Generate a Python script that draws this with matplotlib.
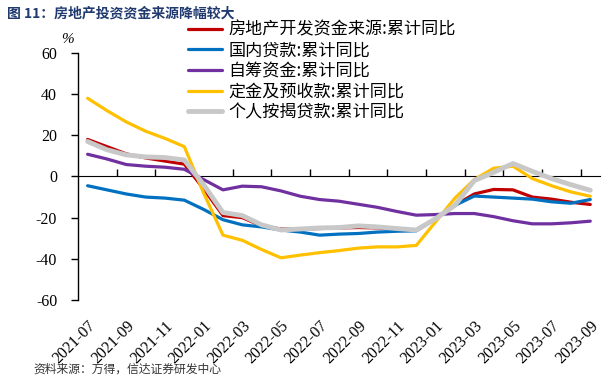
import matplotlib
matplotlib.use("Agg")
import matplotlib.pyplot as plt

plt.rcParams['font.family'] = ['Liberation Serif', 'Noto Sans CJK SC']
plt.rcParams['axes.unicode_minus'] = False

# months 2021-07 .. 2023-09
months = ["2021-07", "2021-08", "2021-09", "2021-10", "2021-11", "2021-12",
          "2022-01", "2022-02", "2022-03", "2022-04", "2022-05", "2022-06",
          "2022-07", "2022-08", "2022-09", "2022-10", "2022-11", "2022-12",
          "2023-01", "2023-02", "2023-03", "2023-04", "2023-05", "2023-06",
          "2023-07", "2023-08", "2023-09"]

total = [18, 14.5, 11, 9, 7.5, 6, -6, -19, -20, -24, -25.5, -25.5,
         -25.3, -25, -24.8, -25, -25.5, -26, -20.5, -14, -8.5, -6.3,
         -6.5, -10, -11, -12.5, -13.6]
domestic_loan = [-4.5, -6.5, -8.5, -10, -10.5, -11.5, -16, -21, -23.5, -24.5, -26, -27,
                 -28.5, -28, -27.7, -27, -26.6, -26.4, -20.5, -14, -9.5, -10,
                 -10.5, -11, -12.3, -13, -11.2]
self_raised = [10.8, 8.5, 5.8, 5, 4.5, 3.5, -1.5, -6.5, -4.7, -5, -7, -9.6,
               -11.2, -12, -13.5, -15, -17, -18.8, -18.5, -18, -18, -19.5,
               -21.5, -23, -23, -22.5, -21.7]
deposits = [38, 32, 26.5, 22, 18.5, 14.5, -8, -28.5, -31, -35.5, -39.5, -38.2,
            -37, -36, -34.8, -34.2, -34.2, -33.5, -22, -10.5, -1.5, 4,
            5, -1, -4.5, -7.5, -9.6]
mortgage = [17, 13, 10.5, 9.5, 9.2, 8, -4, -17.5, -19, -23.5, -26, -25.5,
            -25, -24.8, -24, -24.5, -25.3, -26, -20.5, -14, -2, 2,
            6.3, 2.5, -1, -4, -6.7]

series = [
    ("房地产开发资金来源:累计同比", total, "#C00000", 2.3),
    ("国内贷款:累计同比", domestic_loan, "#0070C0", 2.3),
    ("自筹资金:累计同比", self_raised, "#7030A0", 2.3),
    ("定金及预收款:累计同比", deposits, "#FFC000", 2.3),
    ("个人按揭贷款:累计同比", mortgage, "#C8C8C8", 3.5),
]

fig = plt.figure(figsize=(6.13, 3.82), dpi=100)
ax = fig.add_axes([0.1272, 0.2147, 0.8515, 0.6466])

x = list(range(len(months)))
for name, vals, col, lw in series:
    ax.plot(x, vals, color=col, lw=lw, label=name, solid_capstyle='round')

ax.set_xlim(-0.5, len(months) - 0.5)
ax.set_ylim(-60, 60)
ax.set_yticks([-60, -40, -20, 0, 20, 40, 60])
ax.tick_params(axis='y', direction='out', length=5, width=1, pad=10, labelsize=11.5)

for s in ['top', 'right', 'bottom']:
    ax.spines[s].set_visible(False)
ax.spines['left'].set_linewidth(1)

# labels at the bottom, every two months
ax.set_xticks(x[::2])
ax.set_xticklabels(months[::2], rotation=45, ha='right', rotation_mode='anchor', fontsize=11.5)
ax.tick_params(axis='x', length=0, pad=13)

# zero axis with ticks between categories
zax = ax.secondary_xaxis(0.5)
zax.set_xticks([i + 1.5 for i in range(0, len(months) - 2, 2)])
zax.set_xticklabels([])
zax.tick_params(axis='x', direction='out', length=5, width=1)
zax.spines['bottom'].set_linewidth(1)

ax.text(-0.02, 1.04, "%", transform=ax.transAxes, fontsize=11, style='italic', ha='center')

leg = ax.legend(loc='upper left', bbox_to_anchor=(0.2107, 1.13), frameon=False,
                prop={'family': 'Noto Sans CJK SC', 'size': 12.3},
                handlelength=2.0, handletextpad=0.36, labelspacing=0.15,
                borderpad=0, borderaxespad=0)

fig.text(0.012, 0.955, "图 11：房地产投资资金来源降幅较大", fontsize=10, fontweight='bold',
         color='#203A70', family=['Noto Sans CJK SC', 'DejaVu Sans'])
fig.text(0.055, 0.025, "资料来源：万得，信达证券研发中心", fontsize=8.5,
         color='#333333', family=['Noto Sans CJK SC', 'DejaVu Sans'])

fig.savefig("out.png", dpi=100)
